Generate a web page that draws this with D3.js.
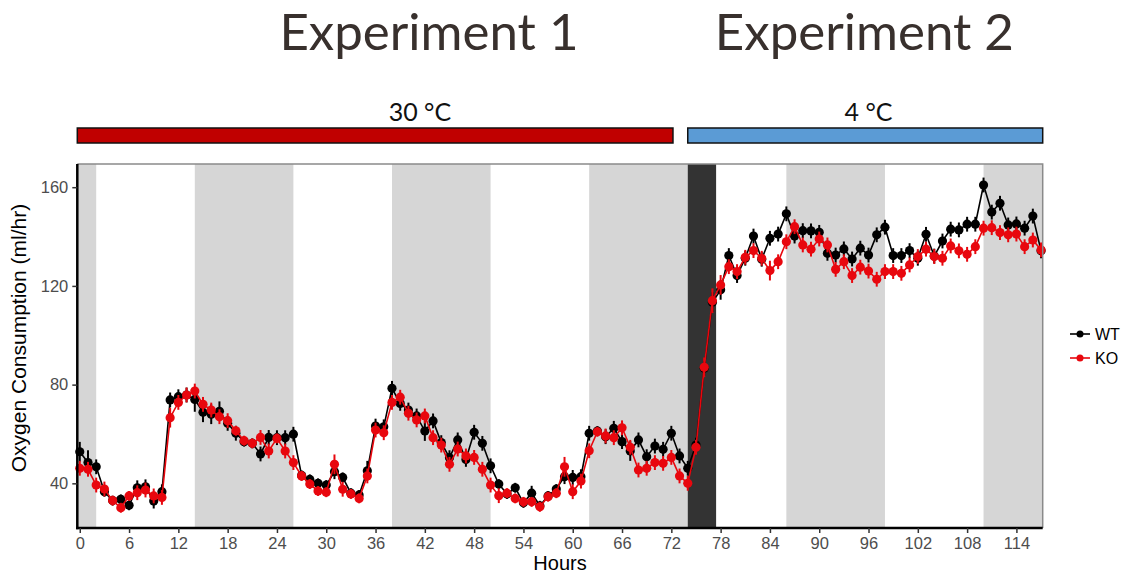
<!DOCTYPE html>
<html lang="en">
<head>
<meta charset="UTF-8">
<title>oxygen consumption</title>
<script src="https://d3js.org/d3.v7.min.js"></script>
<style>
  body { margin: 0; background: #fff; }
</style>
</head>
<body>
<script>
// hourly means
var hours = d3.range(0, 118);
var wt = [52.8, 48.4, 46.7, 36.6, 33.0, 33.5, 31.1, 38.2, 38.6, 32.8,
          36.6, 73.8, 75.1, 75.8, 74.0, 68.8, 68.0, 69.2, 64.3, 60.3,
          56.9, 56.2, 51.9, 58.6, 58.5, 58.5, 59.9, 43.2, 41.6, 40.0,
          39.3, 44.7, 42.4, 36.0, 35.3, 45.1, 63.2, 62.9, 78.5, 72.4,
          69.7, 67.3, 61.2, 65.3, 56.5, 50.4, 57.6, 49.7, 60.7, 56.2,
          47.1, 39.7, 35.7, 38.2, 32.1, 36.0, 30.9, 34.9, 37.7, 42.7,
          42.4, 42.7, 60.3, 61.2, 58.9, 62.3, 56.9, 53.1, 57.6, 50.8,
          55.1, 53.8, 60.3, 51.1, 46.1, 55.5, 86.6, 113.4, 118.4, 132.3,
          124.2, 131.2, 140.2, 130.8, 139.3, 141.0, 149.2, 140.2, 142.4, 142.3,
          141.7, 133.2, 132.5, 135.0, 130.9, 135.3, 132.5, 140.7, 143.8, 132.3,
          132.3, 134.3, 131.2, 140.9, 132.1, 138.2, 143.0, 142.7, 145.0, 145.0,
          160.9, 149.9, 153.5, 144.7, 145.1, 143.4, 148.3, 134.2];
var ko = [46.1, 45.7, 39.3, 37.7, 33.0, 30.1, 34.9, 36.2, 37.3, 34.9,
          34.3, 66.6, 72.8, 75.8, 77.4, 72.0, 69.7, 67.0, 65.4, 61.3,
          57.3, 56.2, 58.6, 53.1, 58.2, 53.1, 48.4, 43.0, 39.7, 36.9,
          36.4, 47.7, 37.6, 35.7, 33.9, 43.0, 61.6, 60.5, 72.8, 74.9,
          68.4, 65.7, 67.3, 58.5, 55.5, 47.7, 53.9, 51.1, 50.5, 45.7,
          39.3, 35.0, 36.0, 33.9, 32.5, 32.5, 30.5, 34.6, 36.0, 46.7,
          36.6, 40.9, 53.2, 60.9, 59.2, 58.5, 62.5, 54.6, 45.4, 46.1,
          48.4, 48.1, 50.5, 43.0, 40.0, 54.6, 87.0, 114.0, 120.4, 127.8,
          125.8, 131.6, 134.3, 131.2, 126.2, 129.8, 137.9, 144.0, 136.6, 134.9,
          139.0, 136.6, 126.7, 129.8, 124.2, 127.6, 126.0, 122.7, 125.8, 125.8,
          125.1, 128.5, 131.9, 134.9, 131.9, 131.2, 136.2, 134.2, 132.8, 135.9,
          143.4, 143.6, 141.6, 140.7, 141.0, 135.9, 138.6, 134.6];
// standard errors, rough estimates from the whisker lengths
var wtErr = [4, 5, 3, 2, 2, 2, 2, 3, 3, 3,
             3, 3, 3, 3, 5, 4, 4, 4, 3, 3,
             2, 2, 3, 3, 3, 3, 3, 2, 2, 2,
             2, 3, 2, 2, 2, 4, 3, 3, 3, 3,
             3, 3, 4, 3, 3, 3, 3, 3, 3, 3,
             3, 2, 2, 2, 2, 3, 2, 2, 2, 3,
             3, 3, 3, 2, 3, 3, 3, 4, 3, 3,
             3, 3, 3, 3, 3, 3, 3, 4, 4, 3,
             3, 3, 3, 3, 3, 3, 3, 3, 3, 3,
             3, 3, 3, 3, 3, 3, 3, 3, 3, 3,
             3, 3, 3, 3, 3, 3, 3, 3, 3, 3,
             3, 3, 3, 3, 3, 3, 3, 3];
var koErr = [3, 3, 3, 3, 2, 2, 2, 3, 3, 3,
             3, 4, 3, 3, 3, 3, 3, 3, 3, 2,
             2, 2, 3, 3, 2, 3, 3, 2, 2, 2,
             2, 4, 3, 2, 2, 3, 3, 3, 3, 3,
             3, 3, 3, 3, 3, 3, 3, 3, 3, 3,
             3, 3, 2, 2, 2, 2, 2, 2, 2, 4,
             3, 3, 3, 2, 3, 3, 3, 3, 3, 3,
             3, 3, 3, 3, 3, 3, 4, 5, 4, 3,
             3, 3, 3, 3, 4, 3, 3, 3, 3, 3,
             3, 3, 3, 3, 3, 3, 3, 3, 3, 3,
             3, 3, 3, 3, 3, 3, 3, 3, 3, 3,
             3, 3, 3, 3, 3, 3, 3, 3];

var lightBands = [[-0.3, 2], [14, 26], [38, 50], [62, 74], [86, 98], [110, 117.2]];
var darkBands = [[74, 77.45]];
var xTicks = d3.range(0, 115, 6);
var yTicks = [40, 80, 120, 160];
var phases = [
    { label: "30 \u00B0C", from: -0.3, to: 72.2, labelAt: 41.4, fill: "#c00000" },
    { label: "4 \u00B0C", from: 74, to: 117.2, labelAt: 96, fill: "#5b9bd5" }
];
var titles = [
    { label: "Experiment 1", at: 42.5 },
    { label: "Experiment 2", at: 95.5 }
];
var series = [
    { name: "WT", values: wt, err: wtErr, color: "#000000" },
    { name: "KO", values: ko, err: koErr, color: "#e8070e" }
];

var width = 1122, height = 573;
var pLeft = 77.3, pRight = 1042.7, pTop = 164, pBottom = 528;

var svg = d3.select("body").append("svg")
    .attr("width", width)
    .attr("height", height);

var x = d3.scaleLinear().domain([-0.3, 117.2]).range([pLeft, pRight]);
var y = d3.scaleLinear().domain([21.9, 169.4]).range([pBottom, pTop]);

// experiment titles
svg.selectAll(".title").data(titles).enter().append("text")
    .attr("x", function (d) { return x(d.at); })
    .attr("y", 50)
    .attr("text-anchor", "middle")
    .attr("font-family", "Lato, 'Open Sans', sans-serif")
    .attr("font-size", 51)
    .attr("fill", "#38302d")
    .text(function (d) { return d.label; });

// temperature bars
svg.selectAll(".phase").data(phases).enter().append("rect")
    .attr("x", function (d) { return x(d.from); })
    .attr("y", 128)
    .attr("width", function (d) { return x(d.to) - x(d.from); })
    .attr("height", 15)
    .attr("fill", function (d) { return d.fill; })
    .attr("stroke", "#111")
    .attr("stroke-width", 1.5);

svg.selectAll(".phaseLabel").data(phases).enter().append("text")
    .attr("x", function (d) { return x(d.labelAt); })
    .attr("y", 121)
    .attr("text-anchor", "middle")
    .attr("font-family", "Lato, 'Open Sans', sans-serif")
    .attr("font-size", 25)
    .attr("fill", "#111")
    .text(function (d) { return d.label; });

// light / dark background
var plot = svg.append("g");
plot.append("rect")
    .attr("x", pLeft).attr("y", pTop)
    .attr("width", pRight - pLeft).attr("height", pBottom - pTop)
    .attr("fill", "#fff");

plot.selectAll(".light").data(lightBands).enter().append("rect")
    .attr("x", function (d) { return x(d[0]); })
    .attr("y", pTop)
    .attr("width", function (d) { return x(d[1]) - x(d[0]); })
    .attr("height", pBottom - pTop)
    .attr("fill", "#d6d6d6");

plot.selectAll(".dark").data(darkBands).enter().append("rect")
    .attr("x", function (d) { return x(d[0]); })
    .attr("y", pTop)
    .attr("width", function (d) { return x(d[1]) - x(d[0]); })
    .attr("height", pBottom - pTop)
    .attr("fill", "#333333");

// series
var line = d3.line()
    .x(function (d) { return x(d[0]); })
    .y(function (d) { return y(d[1]); });

series.forEach(function (s) {
    var pts = hours.map(function (h, i) { return [h, s.values[i], s.err[i]]; });
    var g = plot.append("g");
    g.selectAll(".err").data(pts).enter().append("line")
        .attr("x1", function (d) { return x(d[0]); })
        .attr("x2", function (d) { return x(d[0]); })
        .attr("y1", function (d) { return y(d[1] - d[2]); })
        .attr("y2", function (d) { return y(d[1] + d[2]); })
        .attr("stroke", s.color)
        .attr("stroke-width", 2);
    g.append("path")
        .datum(pts)
        .attr("d", line)
        .attr("fill", "none")
        .attr("stroke", s.color)
        .attr("stroke-width", 1.6);
    g.selectAll(".pt").data(pts).enter().append("circle")
        .attr("cx", function (d) { return x(d[0]); })
        .attr("cy", function (d) { return y(d[1]); })
        .attr("r", 4.6)
        .attr("fill", s.color);
});

// frame
svg.append("path")
    .attr("d", "M" + pLeft + "," + pTop + "H" + pRight + "V" + pBottom)
    .attr("fill", "none")
    .attr("stroke", "#8a8a8a")
    .attr("stroke-width", 1.5);

// axes
var xAxis = svg.append("g")
    .attr("transform", "translate(0," + pBottom + ")")
    .call(d3.axisBottom(x).tickValues(xTicks).tickSize(5).tickPadding(4).tickSizeOuter(0));
var yAxis = svg.append("g")
    .attr("transform", "translate(" + pLeft + ",0)")
    .call(d3.axisLeft(y).tickValues(yTicks).tickSize(5).tickPadding(4).tickSizeOuter(0));

[xAxis, yAxis].forEach(function (a) {
    a.select(".domain").attr("stroke", "#000").attr("stroke-width", 2.5);
    a.selectAll(".tick line").attr("stroke", "#333").attr("stroke-width", 1.5);
    a.selectAll(".tick text")
        .attr("font-family", "'Liberation Sans', Arial, sans-serif")
        .attr("font-size", 16.5)
        .attr("fill", "#4d4d4d");
});
xAxis.select(".domain").attr("d", "M" + (pLeft - 1.2) + ",0H" + pRight);
yAxis.select(".domain").attr("d", "M0," + pTop + "V" + (pBottom + 1.2));

svg.append("text")
    .attr("x", (pLeft + pRight) / 2)
    .attr("y", 570)
    .attr("text-anchor", "middle")
    .attr("font-family", "'Liberation Sans', Arial, sans-serif")
    .attr("font-size", 20)
    .attr("fill", "#000")
    .text("Hours");

svg.append("text")
    .attr("transform", "translate(26,338) rotate(-90)")
    .attr("text-anchor", "middle")
    .attr("font-family", "'Liberation Sans', Arial, sans-serif")
    .attr("font-size", 21)
    .attr("fill", "#000")
    .text("Oxygen Consumption (ml/hr)");

// legend
var legend = svg.selectAll(".legend").data(series).enter().append("g")
    .attr("transform", function (d, i) { return "translate(1070," + (334 + i * 24) + ")"; });
legend.append("line")
    .attr("x1", 0).attr("x2", 20)
    .attr("stroke", function (d) { return d.color; })
    .attr("stroke-width", 1.6);
legend.append("circle")
    .attr("cx", 10).attr("r", 3.5)
    .attr("fill", function (d) { return d.color; });
legend.append("text")
    .attr("x", 25).attr("y", 5.5)
    .attr("font-family", "'Liberation Sans', Arial, sans-serif")
    .attr("font-size", 16)
    .attr("fill", "#000")
    .text(function (d) { return d.name; });
</script>
</body>
</html>
